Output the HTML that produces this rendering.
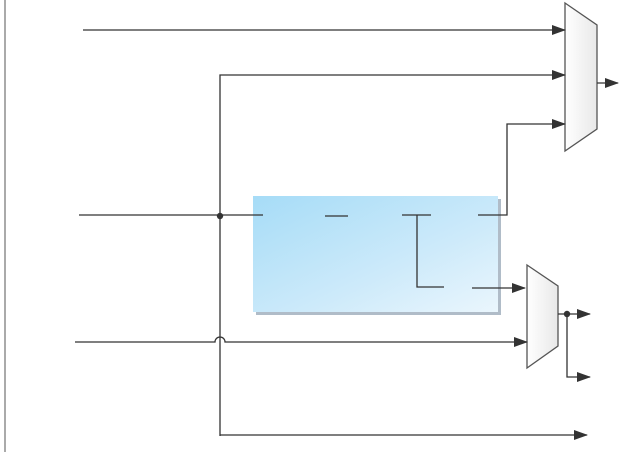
<!DOCTYPE html>
<html><head><meta charset="utf-8"><style>
body{margin:0;background:#fff;width:621px;height:452px;overflow:hidden;font-family:"Liberation Sans",sans-serif}
</style></head><body>
<svg width="621" height="452" viewBox="0 0 621 452">
<defs>
<linearGradient id="bg" x1="0" y1="0" x2="1" y2="1">
<stop offset="0" stop-color="#a6dcf7"/><stop offset="0.6" stop-color="#cdeafa"/><stop offset="1" stop-color="#eaf6fd"/>
</linearGradient>
<linearGradient id="mg" x1="0" y1="0" x2="1" y2="0">
<stop offset="0" stop-color="#fff"/><stop offset="1" stop-color="#e8e8e8"/>
</linearGradient>
<marker id="ar" markerWidth="14" markerHeight="10" refX="13" refY="5" orient="auto" markerUnits="userSpaceOnUse">
<path d="M0,0 L14,5 L0,10 Z" fill="#333"/></marker>
</defs>
<line x1="5" y1="0" x2="5" y2="452" stroke="#555" stroke-width="1"/>
<rect x="256" y="199" width="245" height="116" fill="#b0bcc8"/>
<rect x="253" y="196" width="245" height="116" fill="url(#bg)"/>
<g stroke="#333" stroke-width="1.3" fill="none">
<path d="M565,3 L597,25 L597,129 L565,151 Z" fill="url(#mg)" stroke="#555"/>
<path d="M527,265 L558,286 L558,346 L527,368 Z" fill="url(#mg)" stroke="#555"/>
<line x1="83" y1="30" x2="565" y2="30" marker-end="url(#ar)"/>
<path d="M220,436 L220,75 L565,75" marker-end="url(#ar)"/>
<path d="M478,215 L507,215 L507,124 L565,124" marker-end="url(#ar)"/>
<line x1="597" y1="83" x2="618" y2="83" marker-end="url(#ar)"/>
<line x1="79" y1="215" x2="263" y2="215"/>
<line x1="325" y1="216" x2="348" y2="216"/>
<path d="M402,215 L431,215 M417,215 L417,287 L444,287"/>
<line x1="472" y1="288" x2="525" y2="288" marker-end="url(#ar)"/>
<path d="M75,342 L215,342 A5,5 0 0 1 225,342 L527,342" marker-end="url(#ar)"/>
<line x1="220" y1="435" x2="587" y2="435" marker-end="url(#ar)"/>
<line x1="558" y1="314" x2="590" y2="314" marker-end="url(#ar)"/>
<path d="M567,314 L567,377 L590,377" marker-end="url(#ar)"/>
</g>
<circle cx="220" cy="216" r="3.2" fill="#333"/>
<circle cx="567" cy="314" r="3.2" fill="#333"/>
</svg>
</body></html>
